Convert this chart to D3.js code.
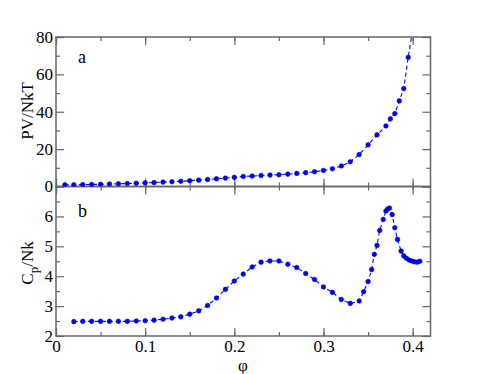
<!DOCTYPE html>
<html>
<head>
<meta charset="utf-8">
<script src="https://cdn.jsdelivr.net/npm/d3@7"></script>
<style>
  body { margin: 0; background: #fff; }
  text { font-family: "Liberation Serif", "Times New Roman", serif; }
</style>
</head>
<body>
<svg width="485" height="374"></svg>
<script>
// panel a: PV/NkT vs phi
var phiA = [0.01, 0.02, 0.03, 0.04, 0.05, 0.06, 0.07, 0.08, 0.09, 0.10,
    0.11, 0.12, 0.13, 0.14, 0.15, 0.16, 0.17, 0.18, 0.19, 0.20,
    0.21, 0.22, 0.23, 0.24, 0.25, 0.26, 0.27, 0.28, 0.29, 0.30,
    0.31, 0.32, 0.33, 0.34, 0.35, 0.36, 0.37, 0.375, 0.38, 0.385,
    0.39, 0.395, 0.40];
var pressure = [0.9, 0.95, 1.0, 1.1, 1.2, 1.3, 1.45, 1.6, 1.75, 1.95,
    2.1, 2.35, 2.55, 2.8, 3.1, 3.4, 3.75, 4.1, 4.5, 4.9,
    5.35, 5.6, 5.9, 6.1, 6.3, 6.6, 7.0, 7.4, 7.9, 8.6,
    9.5, 11.0, 13.2, 17.1, 22.3, 27.6, 32.4, 36.2, 39.0, 45.8,
    52.4, 69.1, 84];

// panel b: Cp/Nk vs phi
var phiB = [0.02, 0.03, 0.04, 0.05, 0.06, 0.07, 0.08, 0.09, 0.10,
    0.11, 0.12, 0.13, 0.14, 0.15, 0.16, 0.17, 0.18, 0.19, 0.20,
    0.21, 0.22, 0.23, 0.24, 0.25, 0.26, 0.27, 0.28, 0.29, 0.30,
    0.31, 0.32, 0.33, 0.34, 0.345, 0.35, 0.354, 0.357, 0.36, 0.363,
    0.367, 0.37, 0.372, 0.374, 0.377, 0.38, 0.383, 0.387, 0.39, 0.393,
    0.396, 0.399, 0.402, 0.405, 0.408];
var heatCap = [2.48, 2.49, 2.49, 2.49, 2.49, 2.49, 2.49, 2.5, 2.51,
    2.53, 2.56, 2.6, 2.64, 2.73, 2.84, 3.02, 3.27, 3.56, 3.84,
    4.07, 4.31, 4.47, 4.51, 4.51, 4.4, 4.29, 4.09, 3.89, 3.64,
    3.46, 3.22, 3.09, 3.17, 3.48, 3.82, 4.22, 4.73, 5.03, 5.53,
    5.9, 6.18, 6.25, 6.28, 6.06, 5.62, 5.23, 4.84, 4.68, 4.6,
    4.54, 4.51, 4.48, 4.47, 4.5];

var xTicks = [0, 0.1, 0.2, 0.3, 0.4];
var yTicksA = [0, 20, 40, 60, 80];
var yTicksB = [2, 3, 4, 5, 6];

var plotLeft = 56, plotRight = 430.5, plotTop = 37, plotMid = 186.5, plotBottom = 336;
var axisColor = "#666", blue = "#0000ff";
var serif = "Liberation Serif, Times New Roman, serif";

var svg = d3.select("svg");

var x = d3.scaleLinear().domain([0, 0.42]).range([plotLeft, plotRight]);
var yA = d3.scaleLinear().domain([0, 80]).range([plotMid, plotTop]);
var yB = d3.scaleLinear().domain([2, 7]).range([plotBottom, plotMid]);

svg.append("clipPath").attr("id", "clipA")
    .append("rect").attr("x", plotLeft).attr("y", plotTop)
    .attr("width", plotRight - plotLeft).attr("height", plotMid - plotTop);

function styleAxis(g) {
    g.attr("font-family", serif).attr("font-size", 17);
    g.select(".domain").remove();
    g.selectAll("line").attr("stroke", axisColor).attr("stroke-width", 1.2);
    g.selectAll("text").attr("fill", "#000");
}

var minorX = d3.range(0, 0.4201, 0.05);

function xAxes(yPos, dir, labels) {
    svg.append("g").attr("transform", "translate(0," + yPos + ")")
        .call(dir(x).tickValues(minorX).tickSizeInner(-4).tickSizeOuter(0).tickFormat(""))
        .call(styleAxis);
    svg.append("g").attr("transform", "translate(0," + yPos + ")")
        .call(dir(x).tickValues(xTicks).tickSizeInner(-8).tickSizeOuter(0)
            .tickPadding(4).tickFormat(labels ? d3.format("") : ""))
        .call(styleAxis);
}
xAxes(plotTop, d3.axisTop, false);
xAxes(plotMid, d3.axisBottom, false);
xAxes(plotMid, d3.axisTop, false);
xAxes(plotBottom, d3.axisBottom, true);

function yAxes(scale, minor, major, labelled) {
    svg.append("g").attr("transform", "translate(" + plotLeft + ",0)")
        .call(d3.axisLeft(scale).tickValues(minor).tickSizeInner(-4).tickSizeOuter(0).tickFormat(""))
        .call(styleAxis);
    svg.append("g").attr("transform", "translate(" + plotLeft + ",0)")
        .call(d3.axisLeft(scale).tickValues(major).tickSizeInner(-8).tickSizeOuter(0)
            .tickPadding(3).tickFormat(function (d) { return labelled.indexOf(d) >= 0 ? d : ""; }))
        .call(styleAxis);
    svg.append("g").attr("transform", "translate(" + plotRight + ",0)")
        .call(d3.axisRight(scale).tickValues(minor).tickSizeInner(-4).tickSizeOuter(0).tickFormat(""))
        .call(styleAxis);
    svg.append("g").attr("transform", "translate(" + plotRight + ",0)")
        .call(d3.axisRight(scale).tickValues(major).tickSizeInner(-8).tickSizeOuter(0).tickFormat(""))
        .call(styleAxis);
}
yAxes(yA, d3.range(10, 80, 20), [0, 20, 40, 60, 80], yTicksA);
yAxes(yB, d3.range(2.5, 7, 1), [2, 3, 4, 5, 6, 7], yTicksB);

// frames
[[plotTop, plotMid], [plotMid, plotBottom]].forEach(function (p) {
    svg.append("rect").attr("x", plotLeft).attr("y", p[0])
        .attr("width", plotRight - plotLeft).attr("height", p[1] - p[0])
        .attr("fill", "none").attr("stroke", axisColor).attr("stroke-width", 1.5);
});

function series(xs, ys, yScale, clip) {
    var pts = xs.map(function (d, i) { return [d, ys[i]]; });
    var g = svg.append("g");
    if (clip) g.attr("clip-path", "url(#clipA)");
    g.append("path").datum(pts)
        .attr("d", d3.line().x(function (d) { return x(d[0]); }).y(function (d) { return yScale(d[1]); }))
        .attr("fill", "none").attr("stroke", blue).attr("stroke-width", 1.1)
        .attr("stroke-dasharray", "4,3");
    g.selectAll("circle").data(pts).enter().append("circle")
        .attr("cx", function (d) { return x(d[0]); })
        .attr("cy", function (d) { return yScale(d[1]); })
        .attr("r", 2.3)
        .attr("fill", blue).attr("stroke", "#0000c8").attr("stroke-width", 0.6);
}
series(phiA, pressure, yA, true);
series(phiB, heatCap, yB, false);

// labels
svg.append("text").attr("x", 78).attr("y", 63).style("font-size", "18px").text("a");
svg.append("text").attr("x", 78).attr("y", 217).style("font-size", "18px").text("b");

svg.append("text").attr("transform", "translate(33,111) rotate(-90)")
    .attr("text-anchor", "middle").style("font-size", "17px").text("PV/NkT");

var cp = svg.append("text").attr("transform", "translate(33,263) rotate(-90)")
    .attr("text-anchor", "middle").style("font-size", "17px");
cp.append("tspan").text("C");
cp.append("tspan").attr("dy", 5).style("font-size", "13px").text("p");
cp.append("tspan").attr("dy", -5).text("/Nk");

svg.append("text").attr("x", 243).attr("y", 371).attr("text-anchor", "middle")
    .style("font-size", "17px").text("φ");
</script>
</body>
</html>
